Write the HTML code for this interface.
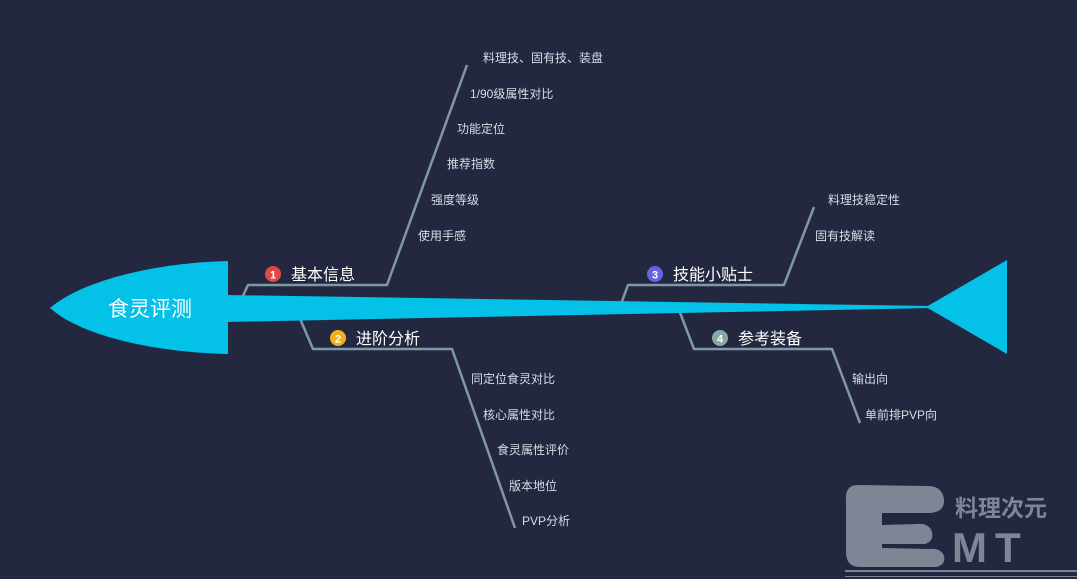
<!DOCTYPE html>
<html><head><meta charset="utf-8"><style>
html,body{margin:0;padding:0;background:#232840;}
svg{display:block}
text{font-family:"Liberation Sans","Noto Sans CJK SC",sans-serif;}
.s{fill:#d8dce4;font-size:12px;}
.l{fill:#ffffff;font-size:16px;}
</style></head><body>
<svg width="1077" height="579" viewBox="0 0 1077 579" xmlns="http://www.w3.org/2000/svg">
<rect width="1077" height="579" fill="#232840"/>
<g fill="none" stroke="#7e98a6" stroke-width="2.5" stroke-linejoin="round">
<polyline points="241,300 248,285 387,285 467,65"/>
<polyline points="298,314 313,349 452,349 515,528"/>
<polyline points="621,304 628,285 784,285 814,207"/>
<polyline points="679,310 694,349 832,349 860,423"/>
</g>
<path d="M228,261 L228,354 C150,352 80,335 50,308 C80,282 150,263 228,261 Z" fill="#04c1e8"/>
<path d="M226,295 L932,306 L932,308 L226,322 Z" fill="#04c1e8"/>
<path d="M926,307 L1007,260 L1007,354 Z" fill="#04c1e8"/>
<text x="108" y="316" fill="#fff" font-size="21">食灵评测</text>
<circle cx="273" cy="274" r="8" fill="#e04848"/><text x="273" y="278.5" text-anchor="middle" fill="#fff" font-size="11" font-weight="bold">1</text>
<text class="l" x="291" y="280">基本信息</text>
<circle cx="338" cy="338" r="8" fill="#f0b020"/><text x="338" y="342.5" text-anchor="middle" fill="#fff" font-size="11" font-weight="bold">2</text>
<text class="l" x="356" y="344">进阶分析</text>
<circle cx="655" cy="274" r="8" fill="#6464e0"/><text x="655" y="278.5" text-anchor="middle" fill="#fff" font-size="11" font-weight="bold">3</text>
<text class="l" x="673" y="280">技能小贴士</text>
<circle cx="720" cy="338" r="8" fill="#8aa8a8"/><text x="720" y="342.5" text-anchor="middle" fill="#fff" font-size="11" font-weight="bold">4</text>
<text class="l" x="738" y="344">参考装备</text>
<text class="s" x="483" y="62">料理技、固有技、装盘</text>
<text class="s" x="470" y="98">1/90级属性对比</text>
<text class="s" x="457" y="133">功能定位</text>
<text class="s" x="447" y="168">推荐指数</text>
<text class="s" x="431" y="204">强度等级</text>
<text class="s" x="418" y="240">使用手感</text>
<text class="s" x="471" y="383">同定位食灵对比</text>
<text class="s" x="483" y="419">核心属性对比</text>
<text class="s" x="497" y="454">食灵属性评价</text>
<text class="s" x="509" y="490">版本地位</text>
<text class="s" x="522" y="525">PVP分析</text>
<text class="s" x="828" y="204">料理技稳定性</text>
<text class="s" x="815" y="240">固有技解读</text>
<text class="s" x="852" y="383">输出向</text>
<text class="s" x="865" y="419">单前排PVP向</text>
<g fill="#7f8595">
<path d="M858,485 Q845,485 846,500 L846,552 Q846,567 860,567 L936,567 Q946,565 944,556 Q941,548 930,549 L882,548 L882,544 L925,544 Q934,541 932,532 Q929,523 918,524 L882,525 L882,513 L930,513 Q945,512 944,499 Q942,486 928,486 Z"/>
<text x="955" y="516" font-size="23" font-weight="bold">料理次元</text>
<text x="952" y="562" font-size="42" font-weight="bold" letter-spacing="8">MT</text>
<rect x="845" y="570" width="232" height="2"/>
<rect x="845" y="576" width="232" height="1"/>
</g>
</svg>
</body></html>
